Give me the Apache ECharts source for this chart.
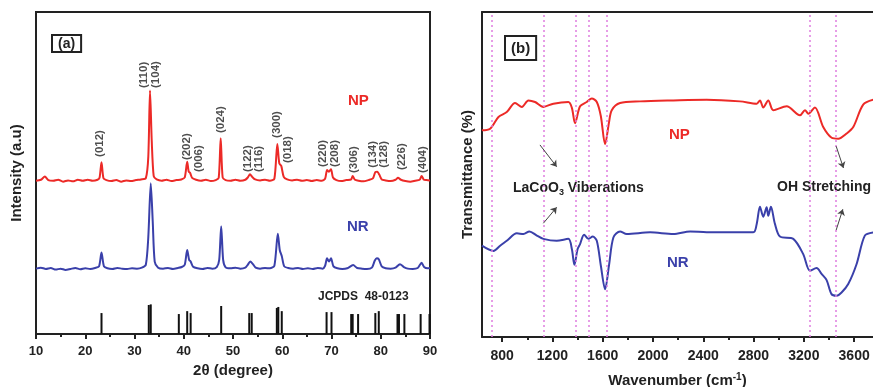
<!DOCTYPE html>
<html>
<head>
<meta charset="utf-8">
<script src="https://cdn.jsdelivr.net/npm/echarts@6/dist/echarts.min.js"></script>
<style>
  html, body { margin: 0; padding: 0; background: #fff; }
  #chart { width: 873px; height: 387px; }
</style>
</head>
<body>
<div id="chart"></div>
<script>
// ---- (a) XRD patterns: [2theta, intensity] ----
const xrdNP = [[10,47.6],[11,47.9],[11.8,48.9],[12.5,47.8],[13.5,47.6],[14.5,47.9],[15.5,47.3],[16.5,47.7],[17.5,47.4],[18.5,47.9],[19.5,47.6],[20.5,47.9],[21.5,47.6],[22.5,47.9],[22.9,48.5],[23.3,53.3],[23.7,48.4],[24.3,47.8],[25.3,47.5],[26.3,47.8],[27.3,47.3],[28.3,47.7],[29.3,47.5],[30.3,47.8],[31.3,48.0],[32.3,48.4],[32.8,55],[33.15,75.6],[33.5,60],[33.9,49],[34.5,48.0],[35.5,47.6],[36.5,47.9],[37.5,47.5],[38.5,47.8],[39.5,48.0],[40.2,48.6],[40.7,53.5],[41.0,50.5],[41.3,50.0],[41.7,48.5],[42.5,47.9],[43.5,47.6],[44.5,47.9],[45.5,47.5],[46.5,47.8],[47.1,48.5],[47.5,60.8],[47.9,48.6],[48.5,47.8],[49.5,47.6],[50.5,47.9],[51.5,47.6],[52.5,47.9],[53.0,48.6],[53.45,49.6],[53.9,48.8],[54.5,48.0],[55.5,47.7],[56.5,47.9],[57.5,47.6],[58.4,48.2],[59.0,59.0],[59.4,53],[59.8,52.2],[60.3,48.8],[61,48],[62,47.7],[63,47.9],[64,47.6],[65,47.8],[66,47.5],[67,47.8],[68,47.6],[68.7,48.2],[69.1,50.9],[69.5,50.4],[69.9,51.2],[70.3,48.6],[71,47.8],[72,47.5],[73,47.8],[74,48.0],[74.3,49.1],[74.7,48.0],[75.5,47.6],[76.5,47.4],[77.5,47.8],[78.4,48.3],[78.9,50.3],[79.3,50.4],[79.7,49.5],[80.2,48.0],[81,47.7],[82,47.5],[83,47.9],[83.5,48.5],[84.1,47.9],[85,47.5],[86,47.3],[87,47.6],[87.9,47.9],[88.3,49.1],[88.7,48],[89.3,47.8],[90,47.7]];

const xrdNR = [[10,20.3],[11,20.6],[12,20.2],[13,20.5],[14,20.0],[15,20.3],[16,19.9],[17,20.2],[18,20.5],[19,20.1],[20,20.4],[21,20.2],[22,20.5],[22.8,21.0],[23.3,25.3],[23.8,21.0],[24.5,20.4],[25.5,20.2],[26.5,20.5],[27.5,20.3],[28.5,20.2],[29.5,20.4],[30.5,20.3],[31.5,20.6],[32.3,21.5],[32.8,30],[33.3,46.8],[33.7,35],[34.1,22.5],[34.8,20.6],[35.8,20.3],[36.8,20.5],[37.8,20.2],[38.8,20.5],[39.6,20.8],[40.2,21.5],[40.7,26.1],[41.1,23],[41.4,22.5],[41.9,20.9],[42.8,20.4],[43.8,20.2],[44.8,20.5],[45.8,20.3],[46.7,20.8],[47.2,23],[47.6,33.5],[48.0,23],[48.5,20.7],[49.5,20.4],[50.5,20.6],[51.5,20.3],[52.5,20.6],[53.0,21.5],[53.5,22.5],[54.0,21.8],[54.6,20.6],[55.5,20.3],[56.5,20.5],[57.5,20.4],[58.4,21.2],[59.1,31.1],[59.5,26],[59.9,24.2],[60.4,21],[61.2,20.5],[62.2,20.3],[63.2,20.5],[64.2,20.2],[65.2,20.4],[66.2,20.2],[67.2,20.5],[68.2,20.3],[68.7,21.2],[69.1,23.5],[69.5,22.5],[69.9,23.5],[70.4,21],[71.2,20.4],[72.2,20.2],[73.2,20.4],[74.4,21.4],[75.2,20.5],[76.2,20.3],[77.2,20.2],[78.2,20.6],[78.8,22.8],[79.2,23.5],[79.6,23.2],[80.2,21],[81,20.4],[82,20.3],[83,20.6],[83.9,21.7],[84.7,20.8],[85.5,20.3],[86.5,20.2],[87.5,20.5],[88.3,22.1],[88.8,20.8],[89.5,20.4],[90,20.5]];

// reference pattern JCPDS 48-0123: [2theta, relative height]
const jcpds = [[23.3,6.5],[32.9,9],[33.3,9.2],[39.0,6.2],[40.7,7.1],[41.4,6.5],[47.6,8.7],[53.3,6.5],[53.8,6.5],[58.9,8.1],[59.2,8.4],[59.9,7.1],[69.0,6.8],[70.0,6.8],[74.0,6.2],[74.3,6.2],[75.4,6.2],[78.9,6.5],[79.6,7.1],[83.4,6.2],[83.7,6.2],[84.8,6.2],[88.1,6.2],[89.9,6.2]];

// Miller indices written above the NP peaks: [2theta, label foot, text]
const hklLabels = [[23.0,55.0,'(012)'],[31.8,76.4,'(110)'],[34.3,76.4,'(104)'],[40.7,54.0,'(202)'],[43.0,50.3,'(006)'],[47.5,62.4,'(024)'],[53.1,50.3,'(122)'],[55.3,50.3,'(116)'],[59.0,60.9,'(300)'],[61.2,53.1,'(018)'],[68.2,51.9,'(220)'],[70.6,51.9,'(208)'],[74.6,50.0,'(306)'],[78.4,51.6,'(134)'],[80.7,51.6,'(128)'],[84.3,50.9,'(226)'],[88.5,50.0,'(404)']];

const xrdTicks = [10,20,30,40,50,60,70,80,90];

// ---- (b) FTIR spectra: [wavenumber, transmittance] ----
const ftirNP = [[639,63.6],[705,64.1],[771,67.7],[837,69.2],[903,72.0],[957,70.8],[1009,72.8],[1062,72.3],[1128,70.8],[1208,71.8],[1327,72.3],[1355,70.5],[1380,65.8],[1420,71.0],[1473,72.3],[1513,73.4],[1553,72.3],[1585,68],[1619,59.3],[1650,66],[1672,69.8],[1738,72.0],[1897,72.5],[2162,72.8],[2427,73.0],[2692,72.5],[2825,71.8],[2851,72.8],[2877,70.6],[2917,72.8],[2957,69.8],[3063,71.0],[3169,68.2],[3209,69.8],[3236,68.7],[3288,70.6],[3354,64.6],[3421,61.3],[3474,61.0],[3540,62.6],[3593,64.6],[3672,71.5],[3752,73.0]];

const ftirNR = [[639,28.1],[731,26.5],[784,28.1],[837,29.6],[917,31.9],[970,31.7],[1017,32.5],[1076,31.2],[1128,30.2],[1234,29.6],[1327,30.2],[1355,27],[1375,22.2],[1400,27],[1420,28.6],[1452,31.5],[1486,30.2],[1521,30.9],[1553,29.6],[1585,22],[1619,14.7],[1650,22],[1685,30.6],[1738,32.5],[1791,31.7],[1977,32.2],[2162,31.7],[2295,32.5],[2427,32.2],[2798,32.2],[2825,34.8],[2851,40.1],[2877,37.0],[2904,39.9],[2917,37.3],[2938,40.1],[2970,34.8],[3010,30.9],[3116,30.2],[3195,25.5],[3248,20.4],[3301,21.2],[3341,19.4],[3381,17.5],[3420,13.2],[3460,12.7],[3500,13.7],[3553,16.3],[3619,22.4],[3685,31.2],[3752,32.2]];

// band positions marked with guide lines
const bandLines = [720,1130,1385,1490,1630,3250,3450];
const ftirTicks = [800,1200,1600,2000,2400,2800,3200,3600];
const ftirMinorTicks = [1000,1400,1800,2200,2600,3000,3400];

// annotation arrows [[from],[to]]
const arrowsLa = [[[1101,59.1],[1234,52.4]],[[1128,35.0],[1234,39.9]]];
const arrowsOH = [[[3457,58.7],[3515,52.0]],[[3457,32.9],[3510,39.3]]];

const FONT = 'Liberation Sans, Arial, sans-serif';
const INK = '#222';
const RED = '#ec2a27';
const BLUE = '#3a40aa';
const PINK = '#e07de0';

const chart = echarts.init(document.getElementById('chart'), null, { renderer: 'canvas' });

const frameAxisLine = { show: true, lineStyle: { color: INK, width: 2 } };
const plainNum = v => String(v);

const option = {
  animation: false,
  backgroundColor: '#fff',
  grid: [
    { left: 36, top: 12, right: 443, bottom: 53, outerBoundsMode: 'none', containLabel: false,
      show: true, borderColor: INK, borderWidth: 2, backgroundColor: 'transparent' },
    { left: 482, top: 12, right: 0, bottom: 50, outerBoundsMode: 'none', containLabel: false, show: false }
  ],
  xAxis: [
    {
      gridIndex: 0, type: 'value', min: 10, max: 90, interval: 10, position: 'bottom',
      axisLine: frameAxisLine,
      axisTick: { show: true, inside: false, length: 5, lineStyle: { color: INK, width: 2 } },
      minorTick: { show: true, splitNumber: 2, length: 3, lineStyle: { color: INK, width: 2 } },
      axisLabel: { show: true, margin: 11, color: INK, fontSize: 13, fontWeight: 'bold', fontFamily: FONT,
        customValues: xrdTicks, formatter: plainNum },
      splitLine: { show: false },
      name: '2θ (degree)', nameLocation: 'middle', nameGap: 27,
      nameTextStyle: { color: INK, fontSize: 15, fontWeight: 'bold', fontFamily: FONT }
    },
    {
      gridIndex: 1, type: 'value', min: 640, max: 3750, position: 'bottom',
      axisLine: frameAxisLine,
      axisTick: { show: true, inside: false, length: 5, lineStyle: { color: INK, width: 2 }, customValues: ftirTicks },
      axisLabel: { show: true, margin: 12, color: INK, fontSize: 14, fontWeight: 'bold', fontFamily: FONT,
        customValues: ftirTicks, formatter: plainNum },
      splitLine: { show: false },
      name: 'Wavenumber (cm{sup|-1})', nameLocation: 'middle', nameGap: 35,
      nameTextStyle: { color: INK, fontSize: 15, fontWeight: 'bold', fontFamily: FONT, lineHeight: 18,
        rich: { sup: { fontSize: 10, fontWeight: 'bold', fontFamily: FONT, color: INK, verticalAlign: 'top', lineHeight: 10 } } }
    },
    {
      // short minor ticks between labelled wavenumbers
      gridIndex: 1, type: 'value', min: 640, max: 3750, position: 'bottom',
      axisLine: { show: false },
      axisTick: { show: true, inside: false, length: 3, lineStyle: { color: INK, width: 2 }, customValues: ftirMinorTicks },
      axisLabel: { show: false },
      splitLine: { show: false }
    },
    {
      // top frame line of panel (b)
      gridIndex: 1, type: 'value', min: 640, max: 3750, position: 'top',
      axisLine: frameAxisLine, axisTick: { show: false }, axisLabel: { show: false }, splitLine: { show: false }
    }
  ],
  yAxis: [
    {
      gridIndex: 0, type: 'value', min: 0, max: 100,
      axisLine: frameAxisLine, axisTick: { show: false }, axisLabel: { show: false }, splitLine: { show: false },
      name: 'Intensity (a.u)', nameLocation: 'middle', nameGap: 12, nameRotate: 90,
      nameTextStyle: { color: INK, fontSize: 15, fontWeight: 'bold', fontFamily: FONT }
    },
    {
      gridIndex: 1, type: 'value', min: 0, max: 100,
      axisLine: frameAxisLine, axisTick: { show: false }, axisLabel: { show: false }, splitLine: { show: false },
      name: 'Transmittance (%)', nameLocation: 'middle', nameGap: 7, nameRotate: 90,
      nameTextStyle: { color: INK, fontSize: 15, fontWeight: 'bold', fontFamily: FONT }
    }
  ],
  series: [
    {
      name: 'JCPDS 48-0123', type: 'bar', xAxisIndex: 0, yAxisIndex: 0,
      data: jcpds, barWidth: 2, itemStyle: { color: '#111' }, silent: true
    },
    {
      name: 'NR', type: 'line', xAxisIndex: 0, yAxisIndex: 0, data: xrdNR,
      showSymbol: false, smooth: 0.25, lineStyle: { color: BLUE, width: 2 }, silent: true
    },
    {
      name: 'NP', type: 'line', xAxisIndex: 0, yAxisIndex: 0, data: xrdNP,
      showSymbol: false, smooth: 0.25, lineStyle: { color: RED, width: 2 }, silent: true
    },
    {
      name: 'hkl', type: 'scatter', xAxisIndex: 0, yAxisIndex: 0,
      data: hklLabels.map(d => ({ value: [d[0], d[1]], name: d[2] })),
      symbolSize: 0, silent: true,
      label: {
        show: true, position: 'right', distance: 0, rotate: 90, formatter: p => p.name,
        color: INK, fontSize: 11.5, fontWeight: 'bold', fontFamily: FONT, align: 'left', verticalAlign: 'middle'
      }
    },
    {
      name: 'NP-IR', type: 'line', xAxisIndex: 1, yAxisIndex: 1, data: ftirNP,
      showSymbol: false, smooth: 0.3, lineStyle: { color: RED, width: 2 }, silent: true,
      markLine: {
        silent: true, symbol: ['none', 'none'], label: { show: false },
        lineStyle: { color: PINK, type: [2, 3], width: 1.5 },
        data: bandLines.map(v => ({ xAxis: v }))
      }
    },
    {
      name: 'NR-IR', type: 'line', xAxisIndex: 1, yAxisIndex: 1, data: ftirNR,
      showSymbol: false, smooth: 0.3, lineStyle: { color: BLUE, width: 2 }, silent: true,
      markLine: {
        silent: true, symbol: ['none', 'arrow'], symbolSize: 6, label: { show: false },
        lineStyle: { color: '#444', type: 'solid', width: 1 },
        data: arrowsLa.concat(arrowsOH).map(a => [{ coord: a[0] }, { coord: a[1] }])
      }
    }
  ],
  graphic: [
    { type: 'text', left: 51, top: 34, style: { text: '(a)', fill: INK, font: 'bold 14px ' + FONT,
      borderColor: INK, borderWidth: 2, padding: [2, 6, 1, 6] } },
    { type: 'text', left: 504, top: 35, style: { text: '(b)', fill: INK, font: 'bold 15px ' + FONT,
      borderColor: INK, borderWidth: 2, padding: [5, 6, 4, 6] } },
    { type: 'text', left: 348, top: 93, style: { text: 'NP', fill: RED, font: 'bold 15px ' + FONT } },
    { type: 'text', left: 347, top: 219, style: { text: 'NR', fill: BLUE, font: 'bold 15px ' + FONT } },
    { type: 'text', left: 318, top: 291, style: { text: 'JCPDS  48-0123', fill: INK, font: 'bold 12px ' + FONT } },
    { type: 'text', left: 669, top: 127, style: { text: 'NP', fill: RED, font: 'bold 15px ' + FONT } },
    { type: 'text', left: 667, top: 255, style: { text: 'NR', fill: BLUE, font: 'bold 15px ' + FONT } },
    { type: 'text', left: 513, top: 179, style: {
      text: 'LaCoO{sub|3} Viberations', fill: INK, font: 'bold 14px ' + FONT, lineHeight: 18,
      rich: { sub: { fontSize: 9, fontWeight: 'bold', fontFamily: FONT, fill: INK, verticalAlign: 'bottom', lineHeight: 10 } } } },
    { type: 'text', left: 777, top: 180, style: { text: 'OH Stretching', fill: INK, font: 'bold 14px ' + FONT } }
  ]
};

chart.setOption(option);
</script>
</body>
</html>
